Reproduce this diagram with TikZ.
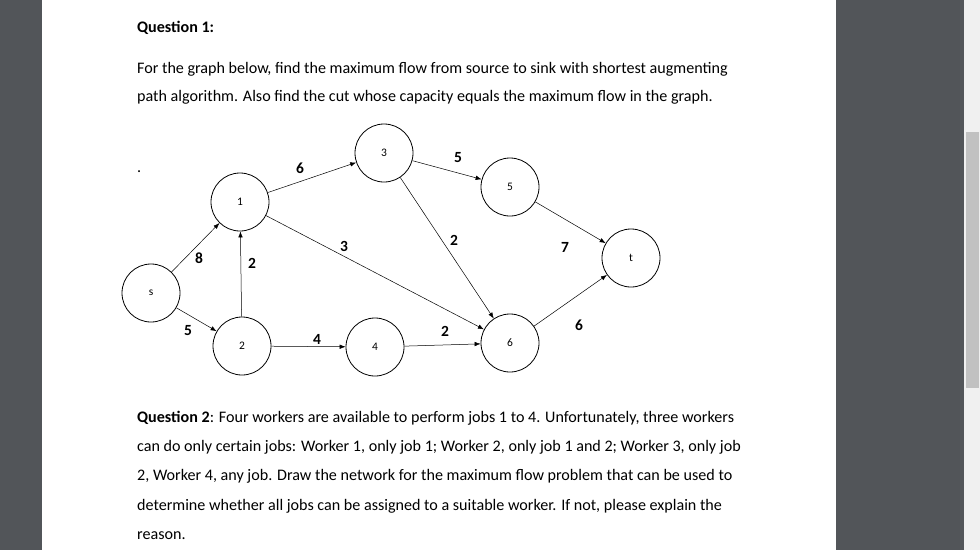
\documentclass[tikz,border=0pt]{standalone}
\usepackage{fontspec}
\setmainfont{Carlito}
\usetikzlibrary{arrows.meta}
\definecolor{viewer}{HTML}{525559}
\definecolor{scroll}{HTML}{F0F0F0}
\definecolor{thumb}{HTML}{C1C1C1}
\tikzset{
  vertex/.style={draw, circle, minimum size=58pt, inner sep=0pt, line width=0.8pt, font=\fontsize{11.5}{13}\selectfont},
  edge/.style={-{Latex[length=6pt,width=4.5pt]}, line width=0.5pt},
  capacity/.style={font=\fontsize{15.5}{17}\selectfont\bfseries},
  line/.style={anchor=base west, inner sep=0pt, font=\fontsize{16.1}{19}\selectfont}
}
\begin{document}
\begin{tikzpicture}[x=1pt, y=-1pt]
   \fill[viewer] (0,0) rectangle (980,550);
   \fill[white] (42,0) rectangle (836,550);
   \fill[scroll] (964,0) rectangle (980,550);
   \fill[thumb] (966,132) rectangle (979,388);
   \useasboundingbox (0,0) rectangle (980,550);

   % text
   \node[line] (q1) at (137,32) {\textbf{Question 1:}};
   \node[line] (l1) at (137,73) {For the graph below, find the maximum flow from source to sink with shortest augmenting};
   \node[line] (l2) at (137,101) {path algorithm. Also find the cut whose capacity equals the maximum flow in the graph.};
   \node[line] (q2) at (137,422) {\textbf{Question 2}: Four workers are available to perform jobs 1 to 4. Unfortunately, three workers};
   \node[line] (l3) at (137,451) {can do only certain jobs: Worker 1, only job 1; Worker 2, only job 1 and 2; Worker 3, only job};
   \node[line] (l4) at (137,480) {2, Worker 4, any job. Draw the network for the maximum flow problem that can be used to};
   \node[line] (l5) at (137,510) {determine whether all jobs can be assigned to a suitable worker. If not, please explain the};
   \node[line] (l6) at (137,539) {reason.};
   \node[line] (dot) at (137,172) {.};

   % graph
   \node[vertex] (s) at (151,293) {s};
   \node[vertex] (v1) at (240,202) {1};
   \node[vertex] (v2) at (242,346) {2};
   \node[vertex] (v3) at (384,153) {3};
   \node[vertex] (v4) at (375,347) {4};
   \node[vertex] (v5) at (510,187) {5};
   \node[vertex] (v6) at (510,343) {6};
   \node[vertex] (t) at (631,258) {t};

   \draw[edge] (s) -- (v1);
   \draw[edge] (s) -- (v2);
   \draw[edge] (v2) -- (v1);
   \draw[edge] (v1) -- (v3);
   \draw[edge] (v1) -- (v6);
   \draw[edge] (v2) -- (v4);
   \draw[edge] (v4) -- (v6);
   \draw[edge] (v3) -- (v5);
   \draw[edge] (v3) -- (v6);
   \draw[edge] (v5) -- (t);
   \draw[edge] (v6) -- (t);

   \node[capacity] (c13) at (300,168) {6};
   \node[capacity] (c35) at (458,158) {5};
   \node[capacity] (cs1) at (199,258) {8};
   \node[capacity] (c21) at (252,263) {2};
   \node[capacity] (c16) at (344,246) {3};
   \node[capacity] (c36) at (454,240) {2};
   \node[capacity] (c5t) at (565,247) {7};
   \node[capacity] (cs2) at (188,331) {5};
   \node[capacity] (c24) at (317,339) {4};
   \node[capacity] (c46) at (445,331) {2};
   \node[capacity] (c6t) at (579,325) {6};
\end{tikzpicture}
\end{document}
